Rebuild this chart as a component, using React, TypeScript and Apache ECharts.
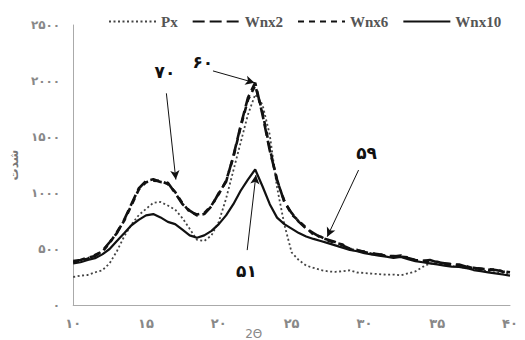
import React, { useEffect, useRef } from "react";
import * as echarts from "echarts";

const twoTheta = [
  10, 10.5, 11, 11.5, 12, 12.5, 13, 13.5, 14, 14.5, 15, 15.5, 16, 16.5, 17, 17.5, 18, 18.5, 19, 19.5,
  20, 20.5, 21, 21.5, 22, 22.5, 23, 23.5, 24, 24.5, 25, 25.5, 26, 26.5, 27, 27.5, 28, 28.5, 29, 29.5,
  30, 30.5, 31, 31.5, 32, 32.5, 33, 33.5, 34, 34.5, 35, 35.5, 36, 36.5, 37, 37.5, 38, 38.5, 39, 39.5, 40,
];

const px = [
  250, 262, 268, 292, 310, 372, 480, 612, 718, 802, 858, 912, 920, 888, 852, 776, 680, 582, 572, 622,
  742, 950, 1200, 1450, 1700, 1880, 1790, 1520, 1050, 720, 470, 400, 352, 332, 312, 300, 296, 302, 310, 290,
  286, 280, 276, 270, 272, 265, 282, 300, 340, 372, 368, 362, 348, 342, 330, 322, 310, 302, 290, 286, 275,
];

const wnx2 = [
  392, 402, 422, 438, 482, 560, 642, 760, 902, 1040, 1108, 1122, 1098, 1092, 1000, 902, 842, 800, 812, 882,
  1000, 1100, 1330, 1600, 1850, 1985, 1700, 1380, 1120, 920, 822, 742, 682, 642, 602, 582, 562, 532, 502, 492,
  472, 462, 452, 440, 432, 442, 420, 402, 392, 402, 382, 372, 362, 362, 342, 332, 322, 322, 312, 302, 292,
];

const wnx6 = [
  382, 396, 414, 446, 476, 552, 650, 752, 890, 1030, 1096, 1110, 1108, 1080, 1010, 910, 832, 808, 820, 890,
  990, 1110, 1320, 1590, 1830, 1960, 1720, 1400, 1110, 930, 810, 750, 690, 630, 610, 575, 555, 540, 498, 485,
  478, 455, 458, 435, 438, 432, 425, 398, 396, 392, 386, 368, 366, 352, 346, 328, 326, 314, 316, 298, 296,
];

const wnx10 = [
  372, 382, 402, 418, 452, 500, 572, 640, 712, 760, 800, 812, 782, 742, 722, 672, 622, 600, 622, 662,
  722, 800, 900, 1020, 1120, 1210, 1060, 900, 780, 722, 682, 642, 612, 590, 572, 552, 532, 512, 492, 480,
  462, 452, 440, 432, 420, 430, 410, 392, 382, 372, 362, 352, 342, 340, 330, 312, 302, 292, 282, 272, 262,
];

const seriesNames = ["Px", "Wnx2", "Wnx6", "Wnx10"];

// Annotation labels and their arrows (data coordinates: [2θ, intensity])
const annoLabels = ["۷۰", "۶۰", "۵۱", "۵۹"];
const annoLabelPos: [number, number][] = [
  [16.3, 2080],
  [18.9, 2170],
  [21.9, 300],
  [30.15, 1360],
];
const arrowStart: [number, number][] = [
  [16.4, 1890],
  [19.6, 2090],
  [21.95, 490],
  [29.6, 1205],
];
const arrowEnd: [number, number][] = [
  [17.05, 1120],
  [22.45, 1985],
  [22.55, 1160],
  [27.45, 610],
];

const toFa = (n: number) => String(n).replace(/\d/g, (d) => "۰۱۲۳۴۵۶۷۸۹"[Number(d)]);

const pair = (xs: number[], ys: number[]) => xs.map((x, i) => [x, ys[i]]);

export default function App() {
  const ref = useRef<HTMLDivElement>(null);
  useEffect(() => {
    if (!ref.current) return;
    const chart = echarts.init(ref.current, undefined, { renderer: "svg" });
    const lineColor = "#111";
    const mkSeries = (name: string, data: number[], type: any, width: number, color: string) => ({
      name,
      type: "line",
      data: pair(twoTheta, data),
      symbol: "none",
      smooth: false,
      lineStyle: { color, width, type },
      itemStyle: { color },
    });
    chart.setOption({
      animation: false,
      backgroundColor: "#fff",
      grid: { left: 68, right: 15, top: 25, bottom: 35, containLabel: false },
      legend: {
        top: 9,
        left: 103,
        itemWidth: 47,
        itemHeight: 10,
        itemGap: 14,
        itemStyle: { opacity: 0 },
        textStyle: { fontFamily: "Liberation Serif", fontWeight: "bold", fontSize: 15, color: "#555" },
        data: seriesNames,
      },
      xAxis: {
        type: "value",
        min: 10,
        max: 40,
        interval: 5,
        splitLine: { show: false },
        axisTick: { show: false },
        axisLine: { lineStyle: { color: "#aaa", width: 1 } },
        axisLabel: {
          margin: 12,
          color: "#888",
          fontWeight: "bold",
          fontFamily: "DejaVu Sans",
          fontSize: 13,
          formatter: (v: number) => toFa(v),
        },
      },
      yAxis: {
        type: "value",
        min: 0,
        max: 2500,
        interval: 500,
        splitLine: { show: false },
        axisTick: { show: false },
        axisLine: { show: true, lineStyle: { color: "#aaa", width: 1 } },
        axisLabel: {
          margin: 13,
          color: "#888",
          fontWeight: "bold",
          fontFamily: "DejaVu Sans",
          fontSize: 12,
          formatter: (v: number) => toFa(v),
        },
        name: "شدت",
        nameLocation: "middle",
        nameGap: 46,
        nameRotate: 90,
        nameTextStyle: { color: "#777", fontWeight: "bold", fontSize: 12, fontFamily: "DejaVu Sans" },
      },
      series: [
        mkSeries("Px", px, [2, 2.5], 1.8, "#444"),
        mkSeries("Wnx2", wnx2, [12, 5], 2.6, lineColor),
        mkSeries("Wnx6", wnx6, [6, 5], 2.6, lineColor),
        {
          ...mkSeries("Wnx10", wnx10, "solid", 2.2, lineColor),
          markLine: {
            silent: true,
            symbol: ["none", "arrow"],
            symbolSize: [7, 9],
            label: { show: false },
            lineStyle: { color: "#111", width: 1, type: "solid" },
            data: arrowStart.map((s, i) => [{ coord: s }, { coord: arrowEnd[i] }]),
          },
        },
      ],
    });
    const texts: any[] = annoLabels.map((t, i) => {
      const p = chart.convertToPixel({ gridIndex: 0 }, annoLabelPos[i]) as number[];
      return {
        type: "text",
        x: p[0],
        y: p[1],
        style: {
          text: t,
          fill: "#111",
          font: "bold 17px 'DejaVu Sans'",
          align: "center",
          verticalAlign: "middle",
        },
      };
    });
    const xName = chart.convertToPixel({ gridIndex: 0 }, [22.4, 0]) as number[];
    texts.push({
      type: "text",
      x: xName[0],
      y: xName[1] + 29,
      style: { text: "2Θ", fill: "#888", font: "12px 'DejaVu Sans'", align: "center", verticalAlign: "middle" },
    });
    chart.setOption({ graphic: texts });
    return () => chart.dispose();
  }, []);
  return <div ref={ref} style={{ position: "absolute", left: 0, top: 0, width: 525, height: 340 }} />;
}
